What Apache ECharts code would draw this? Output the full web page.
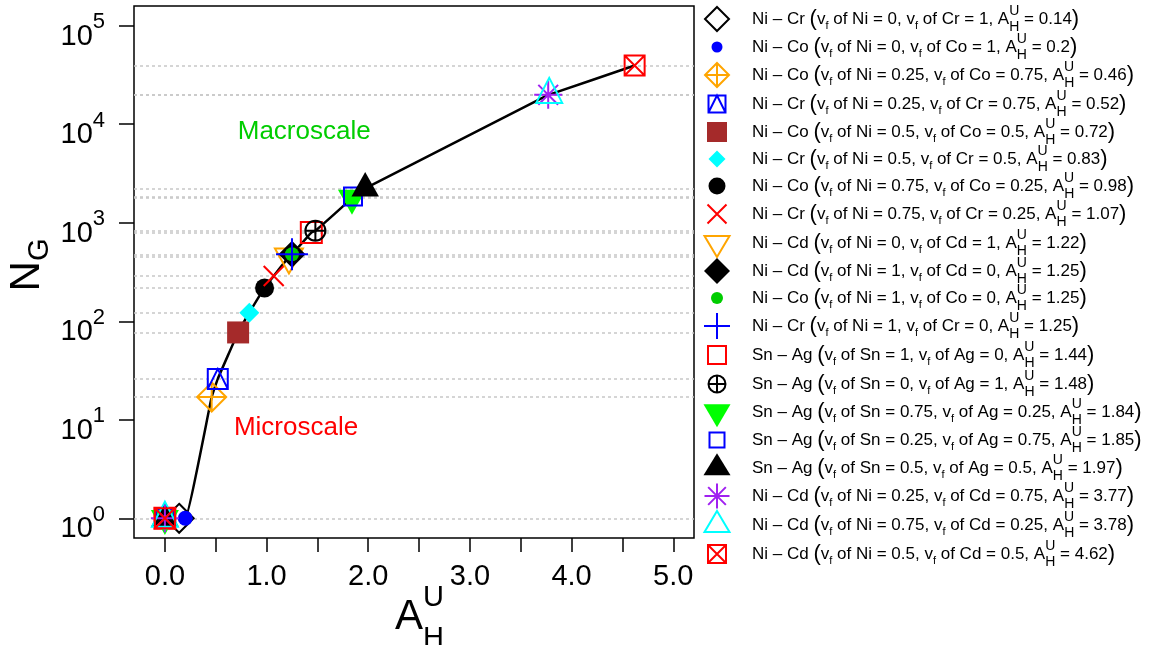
<!DOCTYPE html>
<html>
<head>
<meta charset="utf-8">
<script src="https://cdn.jsdelivr.net/npm/echarts@6/dist/echarts.min.js"></script>
<style>
  html, body { margin: 0; padding: 0; background: #fff; }
  #chart { width: 1152px; height: 645px; }
</style>
</head>
<body>
<div id="chart"></div>
<script>
// ---- data ----------------------------------------------------------------
const elemA  = ['Ni','Ni','Ni','Ni','Ni','Ni','Ni','Ni','Ni','Ni','Ni','Ni','Sn','Sn','Sn','Sn','Sn','Ni','Ni','Ni'];
const elemB  = ['Cr','Co','Co','Cr','Co','Cr','Co','Cr','Cd','Cd','Co','Cr','Ag','Ag','Ag','Ag','Ag','Cd','Cd','Cd'];
const fracA  = ['0','0','0.25','0.25','0.5','0.5','0.75','0.75','0','1','1','1','1','0','0.75','0.25','0.5','0.25','0.75','0.5'];
const fracB  = ['1','1','0.75','0.75','0.5','0.5','0.25','0.25','1','0','0','0','0','1','0.25','0.75','0.5','0.75','0.25','0.5'];
const aHU    = [0.14, 0.2, 0.46, 0.52, 0.72, 0.83, 0.98, 1.07, 1.22, 1.25, 1.25, 1.25, 1.44, 1.48, 1.84, 1.85, 1.97, 3.77, 3.78, 4.62];
const nG     = [1, 1, 17, 26, 77, 122, 218, 288, 450, 478, 478, 478, 795, 830, 1780, 1850, 2230, 19900, 20000, 39400];
// series that also carry the reference point (A = 0, N = 1)
const hasOrigin = [0,0,0,0,0,0,0,0,0,0,0,0,1,1,1,1,1,1,1,1];

const xTickValues  = [0, 0.5, 1, 1.5, 2, 2.5, 3, 3.5, 4, 4.5, 5];
const xLabelValues = [0, 1, 2, 3, 4, 5];
const yTickValues  = [1, 10, 100, 1000, 10000, 100000];

const noteText  = ['Macroscale', 'Microscale'];
const noteAt    = [[1.37, 8450], [1.29, 8.3]];
const noteColor = ['#00cd00', '#ff0000'];

// axis ranges (4 % padding around 0..5 / 10^0..10^5, as in base-graphics plots)
const X_MIN = -0.304, X_MAX = 5.204;
const Y_MIN = Math.pow(10, -0.2), Y_MAX = Math.pow(10, 5.2);

// ---- marker styles ---------------------------------------------------------
const FONT = '"Liberation Sans", Arial, sans-serif';
const markColor = ['#000000','#0000ff','#ffa500','#0000ff','#a52a2a','#00ffff','#000000','#ff0000','#ffa500','#000000',
                   '#00cd00','#0000ff','#ff0000','#000000','#00ff00','#0000ff','#000000','#a020f0','#00ffff','#ff0000'];
const markFilled = [0,1,0,0,1,1,1,0,0,1,1,0,0,0,1,0,1,0,0,0];
const plotMarks = [
  ['diamond',14.5],['circle',7.5],['diamondPlus',14.5],['squareTri',10],['square',11],['diamond',10],['circle',9.5],
  ['cross',10],['triDown',28,25],['diamond',13.5],['circle',7],['plus',16],['square',10.5],['circlePlus',10],
  ['triDown',28,25],['square',9],['triUp',27.5,24.5],['asterisk',14],['triUp',26,25],['squareX',10]
];
const legendMarks = [
  ['diamond',12],['circle',5.5],['diamondPlus',12],['squareTri',8.5],['square',10],['diamond',8.5],['circle',8.5],
  ['cross',9.5],['triDown',25,21],['diamond',13],['circle',6],['plus',13],['square',9],['circlePlus',8.5],
  ['triDown',27,23],['square',7.5],['triUp',27,22],['asterisk',12.5],['triUp',25,21],['squareX',9]
];
const BOX = 36;

// Builds an SVG path centred in an s x s box; the leading moves pin the box so
// every symbol keeps its own size when ECharts fits the path to symbolSize.
function shapePath(kind, a, b, s) {
  const c = s / 2;
  const P = (x, y) => `${+x.toFixed(2)} ${+y.toFixed(2)}`;
  const sq = h => `M${P(c-h,c-h)}L${P(c+h,c-h)}L${P(c+h,c+h)}L${P(c-h,c+h)}Z`;
  const dia = h => `M${P(c,c-h)}L${P(c+h,c)}L${P(c,c+h)}L${P(c-h,c)}Z`;
  const cir = r => `M${P(c-r,c)}A${r} ${r} 0 1 1 ${P(c+r,c)}A${r} ${r} 0 1 1 ${P(c-r,c)}Z`;
  const plus = h => `M${P(c-h,c)}L${P(c+h,c)}M${P(c,c-h)}L${P(c,c+h)}`;
  const ex = h => `M${P(c-h,c-h)}L${P(c+h,c+h)}M${P(c+h,c-h)}L${P(c-h,c+h)}`;
  let d = `M0 0M${s} ${s}`;
  switch (kind) {
    case 'diamond':     d += dia(a); break;
    case 'diamondPlus': d += dia(a) + plus(a); break;
    case 'circle':      d += cir(a); break;
    case 'circlePlus':  d += cir(a) + plus(a); break;
    case 'square':      d += sq(a); break;
    case 'squareTri':   d += sq(a) + `M${P(c-a,c+a)}L${P(c,c-a)}L${P(c+a,c+a)}`; break;
    case 'squareX':     d += sq(a) + ex(a); break;
    case 'cross':       d += ex(a); break;
    case 'plus':        d += plus(a); break;
    case 'asterisk':    d += plus(a) + ex(a * 0.707); break;
    case 'triUp':       d += `M${P(c, c-2*b/3)}L${P(c+a/2, c+b/3)}L${P(c-a/2, c+b/3)}Z`; break;
    case 'triDown':     d += `M${P(c, c+2*b/3)}L${P(c+a/2, c-b/3)}L${P(c-a/2, c-b/3)}Z`; break;
  }
  return 'path://' + d;
}

function markStyle(i) {
  return markFilled[i]
    ? { color: markColor[i], borderWidth: 0, opacity: 1 }
    : { color: 'rgba(0,0,0,0)', borderColor: markColor[i], borderWidth: 2, opacity: 1 };
}

const names = aHU.map((a, i) =>
  `${elemA[i]}-${elemB[i]} (vf of ${elemA[i]} = ${fracA[i]}, vf of ${elemB[i]} = ${fracB[i]}, A = ${a})`);

function legendRich(i) {
  return `{t|${elemA[i]} \u2013 ${elemB[i]} }{p|(}{t|v}{f|f}{t| of ${elemA[i]} = ${fracA[i]}, v}{f|f}` +
         `{t| of ${elemB[i]} = ${fracB[i]}, A}{u|U}{h|H}{t| = ${aHU[i]}}{p|)}`;
}

// ---- curve through the measured points -----------------------------------
const curve = [];
aHU.forEach((a, i) => {
  const last = curve[curve.length - 1];
  if (!last || last[0] !== a || last[1] !== nG[i]) curve.push([a, nG[i]]);
});
const refLevels = Array.from(new Set(nG));

// ---- series -----------------------------------------------------------------
const series = [{
  type: 'line',
  data: curve,
  symbol: 'none',
  smooth: 0.1,
  lineStyle: { color: '#000', width: 2.5 },
  silent: true,
  z: 2,
  markLine: {
    silent: true,
    z: 1,
    symbol: 'none',
    label: { show: false },
    lineStyle: { type: [3, 3], color: '#c8c8c8', width: 1.5 },
    emphasis: { disabled: true },
    data: refLevels.map(v => ({ yAxis: v }))
  }
}];

aHU.forEach((a, i) => {
  const pts = [];
  if (hasOrigin[i]) pts.push([0, 1]);
  pts.push([a, nG[i]]);
  series.push({
    type: 'scatter',
    name: names[i],
    data: pts,
    symbol: shapePath(plotMarks[i][0], plotMarks[i][1], plotMarks[i][2], BOX),
    symbolSize: BOX,
    itemStyle: markStyle(i),
    emphasis: { disabled: true },
    silent: true,
    z: 3
  });
});

// text notes placed at data coordinates
series.push({
  type: 'scatter',
  data: noteText.map((t, k) => ({ name: t, value: noteAt[k], label: { color: noteColor[k] } })),
  symbolSize: 1,
  itemStyle: { color: 'rgba(0,0,0,0)', opacity: 1 },
  silent: true,
  z: 4,
  label: {
    show: true,
    position: 'inside',
    formatter: p => p.name,
    fontFamily: FONT,
    fontSize: 26
  }
});

// ---- chart ----------------------------------------------------------------
const chart = echarts.init(document.getElementById('chart'), null, { renderer: 'canvas' });
const nameIndex = {};
names.forEach((n, i) => { nameIndex[n] = i; });

chart.setOption({
  animation: false,
  backgroundColor: '#fff',
  textStyle: { fontFamily: FONT },
  grid: {
    left: 134, top: 6, width: 560, height: 532,
    show: true, borderColor: '#000', borderWidth: 1.5, backgroundColor: 'transparent',
    containLabel: false, outerBoundsMode: 'none'
  },
  xAxis: {
    type: 'value',
    min: X_MIN, max: X_MAX,
    axisLine: { show: false, onZero: false },
    splitLine: { show: false },
    axisTick: { show: true, inside: false, length: 14, customValues: xTickValues,
                lineStyle: { color: '#000', width: 1.5 } },
    axisLabel: { customValues: xLabelValues, formatter: v => v.toFixed(1),
                 fontFamily: FONT, fontSize: 29, lineHeight: 29, color: '#000', margin: 24 }
  },
  yAxis: {
    type: 'log',
    logBase: 10,
    min: Y_MIN, max: Y_MAX,
    axisLine: { show: false, onZero: false },
    splitLine: { show: false },
    minorTick: { show: false },
    axisTick: { show: true, inside: false, length: 15, customValues: yTickValues,
                lineStyle: { color: '#000', width: 1.5 } },
    axisLabel: {
      customValues: yTickValues,
      formatter: v => `{b|10}{e|${Math.round(Math.log10(v))}}`,
      margin: 29,
      rich: {
        b: { fontFamily: FONT, fontSize: 29, lineHeight: 33, padding: [22, 0, 0, 0], color: '#000' },
        e: { fontFamily: FONT, fontSize: 22, lineHeight: 10, padding: [0, 0, 7, 0], color: '#000' }
      }
    },
    name: '{n|N}{g|G}',
    nameLocation: 'middle',
    nameRotate: 90,
    nameGap: 79,
    nameTextStyle: {
      rich: {
        n: { fontFamily: FONT, fontSize: 42, lineHeight: 56, color: '#000', padding: [0, 0, 0, 14] },
        g: { fontFamily: FONT, fontSize: 29, lineHeight: 10, padding: [26, 0, 0, 0], color: '#000' }
      }
    }
  },
  legend: {
    orient: 'vertical',
    left: 698, top: 0, padding: 0,
    itemWidth: 60, itemHeight: BOX, itemGap: -9,
    selectedMode: false,
    symbolKeepAspect: true,
    data: names.map((n, i) => ({
      name: n,
      icon: shapePath(legendMarks[i][0], legendMarks[i][1], legendMarks[i][2], BOX),
      itemStyle: markStyle(i)
    })),
    formatter: name => legendRich(nameIndex[name]),
    textStyle: {
      fontFamily: FONT, fontSize: 17, color: '#000',
      rich: {
        t: { fontFamily: FONT, fontSize: 17, lineHeight: 30, color: '#000' },
        p: { fontFamily: FONT, fontSize: 22, lineHeight: 30, color: '#000' },
        f: { fontFamily: FONT, fontSize: 11, lineHeight: 10, padding: [14, 0, 0, 0], color: '#000' },
        u: { fontFamily: FONT, fontSize: 14, lineHeight: 10, align: 'left', width: 0.1,
             padding: [0, 0, 16, 0], color: '#000' },
        h: { fontFamily: FONT, fontSize: 14, lineHeight: 10, align: 'left', padding: [16, 0, 0, 0], color: '#000' }
      }
    }
  },
  series: series
});

// x-axis title A with stacked super/subscript, anchored to the axis middle
const midX = chart.convertToPixel({ xAxisIndex: 0 }, (X_MIN + X_MAX) / 2);
const axisY = chart.convertToPixel({ yAxisIndex: 0 }, Y_MIN);
const titleText = (text, x, y, size, align) => ({
  type: 'text', x: x, y: y, silent: true,
  style: { text: text, fontFamily: FONT, fontSize: size, fill: '#000', align: align, verticalAlign: 'middle' }
});
chart.setOption({
  graphic: [
    titleText('A', midX - 5, axisY + 79, 42, 'center'),
    titleText('U', midX + 9, axisY + 60, 29, 'left'),
    titleText('H', midX + 9, axisY + 101, 29, 'left')
  ]
});
</script>
</body>
</html>
